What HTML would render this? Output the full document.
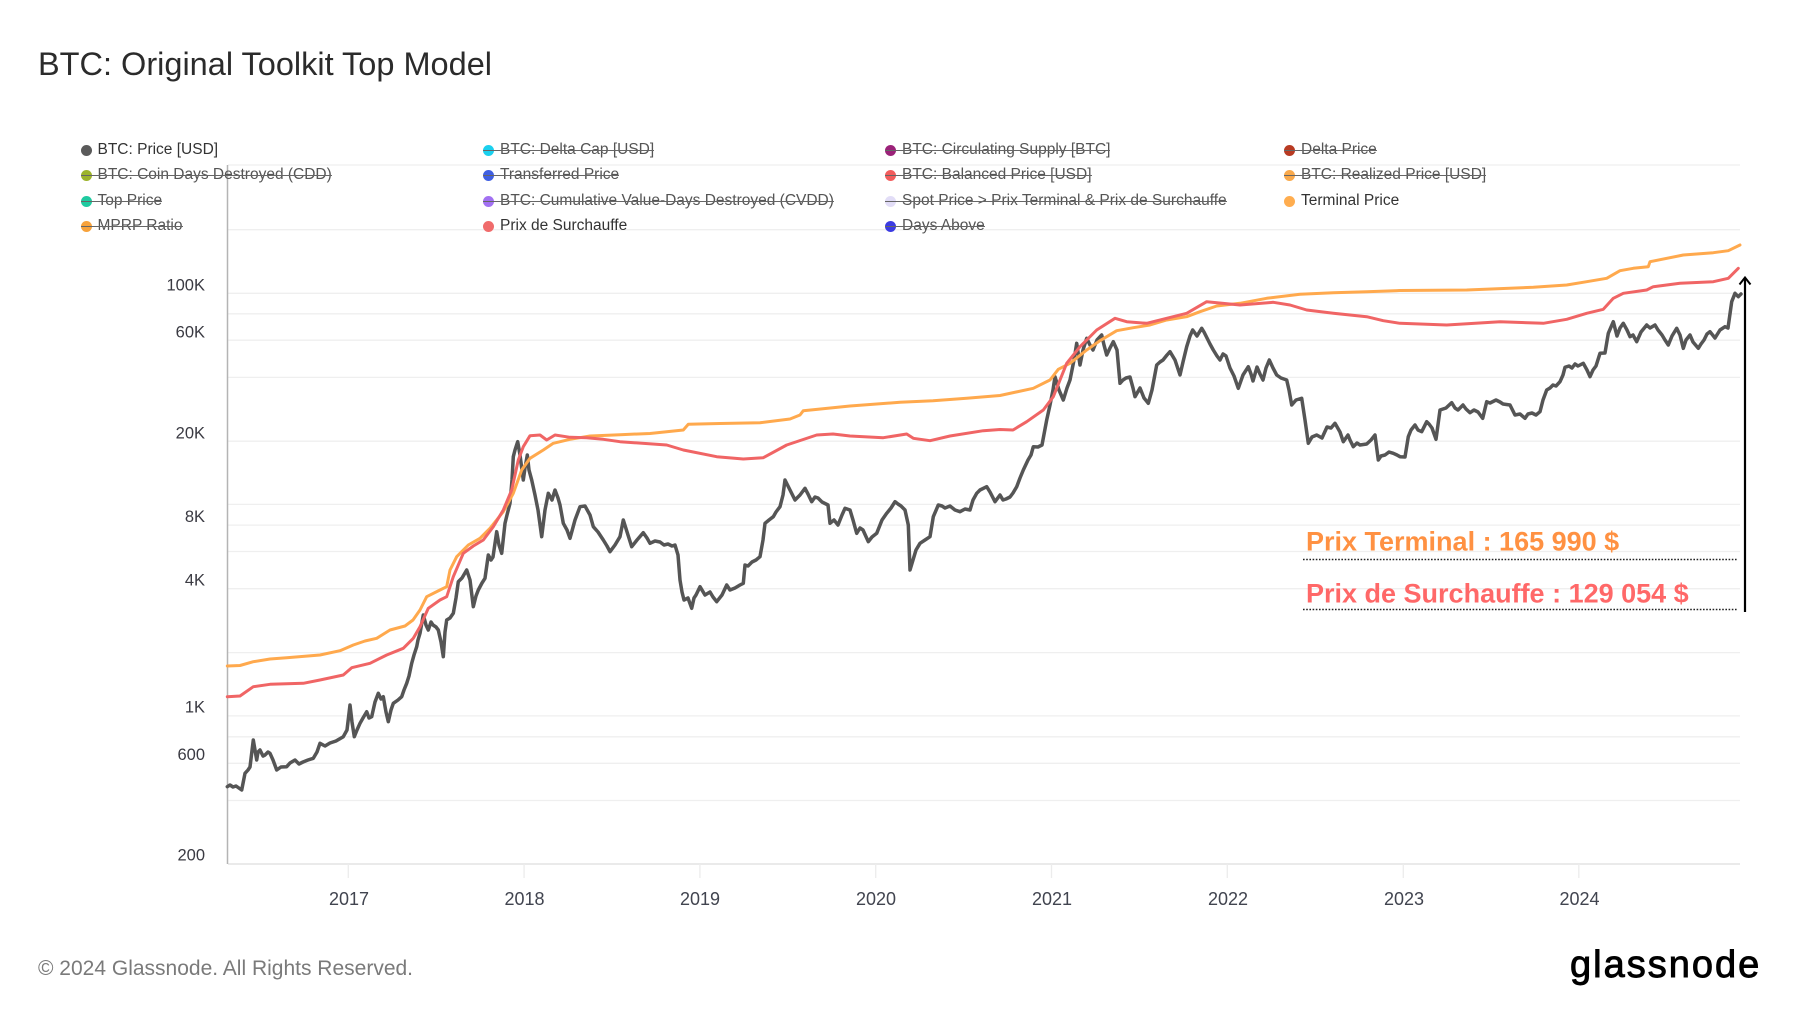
<!DOCTYPE html>
<html>
<head>
<meta charset="utf-8">
<style>
  html,body{margin:0;padding:0;background:#fff;}
  body{width:1800px;height:1013px;overflow:hidden;position:relative;font-family:"Liberation Sans",Arial,sans-serif;}
  .lg{position:absolute;font-size:15.5px;line-height:18px;color:#333;white-space:nowrap;}
  .lg .d{position:absolute;left:-6px;top:4px;width:11px;height:11px;border-radius:50%;}
  .lg span{position:relative;left:11px;}
  .lg.off{color:#555;}
  .lg.off::after{content:"";position:absolute;left:-6px;right:-11px;top:9px;height:1.2px;background:#666;}
</style>
</head>
<body>
<svg width="1800" height="1013" viewBox="0 0 1800 1013" xmlns="http://www.w3.org/2000/svg" style="position:absolute;left:0;top:0;">
  <text x="38" y="75" font-family="Liberation Sans, Arial, sans-serif" font-size="32.5" fill="#2b2b2b">BTC: Original Toolkit Top Model</text>

  <!-- gridlines -->
  <g stroke="#efefef" stroke-width="1.3">
    <line x1="228" x2="1740" y1="165" y2="165"/>
    <line x1="228" x2="1740" y1="229.7" y2="229.7"/>
    <line x1="228" x2="1740" y1="293.3" y2="293.3"/>
    <line x1="228" x2="1740" y1="313.8" y2="313.8"/>
    <line x1="228" x2="1740" y1="340.2" y2="340.2"/>
    <line x1="228" x2="1740" y1="377.4" y2="377.4"/>
    <line x1="228" x2="1740" y1="441.2" y2="441.2"/>
    <line x1="228" x2="1740" y1="504.4" y2="504.4"/>
    <line x1="228" x2="1740" y1="525.1" y2="525.1"/>
    <line x1="228" x2="1740" y1="551.5" y2="551.5"/>
    <line x1="228" x2="1740" y1="588.7" y2="588.7"/>
    <line x1="228" x2="1740" y1="652.6" y2="652.6"/>
    <line x1="228" x2="1740" y1="715.9" y2="715.9"/>
    <line x1="228" x2="1740" y1="736.8" y2="736.8"/>
    <line x1="228" x2="1740" y1="763.3" y2="763.3"/>
    <line x1="228" x2="1740" y1="800.5" y2="800.5"/>
  </g>
  <!-- x axis -->
  <line x1="228" x2="1740" y1="864" y2="864" stroke="#e4e4e4" stroke-width="1.5"/>
  <g stroke="#ececec" stroke-width="1.3">
    <line x1="348.3" x2="348.3" y1="864" y2="878"/>
    <line x1="524.1" x2="524.1" y1="864" y2="878"/>
    <line x1="699.9" x2="699.9" y1="864" y2="878"/>
    <line x1="875.7" x2="875.7" y1="864" y2="878"/>
    <line x1="1051.5" x2="1051.5" y1="864" y2="878"/>
    <line x1="1227.3" x2="1227.3" y1="864" y2="878"/>
    <line x1="1403.3" x2="1403.3" y1="864" y2="878"/>
    <line x1="1578.8" x2="1578.8" y1="864" y2="878"/>
  </g>
  <g font-family="Liberation Sans, Arial, sans-serif" font-size="18" fill="#41444f" text-anchor="middle">
    <text x="349" y="905">2017</text>
    <text x="524.5" y="905">2018</text>
    <text x="700" y="905">2019</text>
    <text x="876" y="905">2020</text>
    <text x="1052" y="905">2021</text>
    <text x="1228" y="905">2022</text>
    <text x="1404" y="905">2023</text>
    <text x="1579.5" y="905">2024</text>
  </g>
  <!-- y axis -->
  <line x1="227.5" x2="227.5" y1="165" y2="864" stroke="#b4b4b4" stroke-width="1.5"/>
  <g font-family="Liberation Sans, Arial, sans-serif" font-size="16.5" fill="#3a3a42" text-anchor="end">
    <text x="205" y="290.5">100K</text>
    <text x="205" y="337.5">60K</text>
    <text x="205" y="438.5">20K</text>
    <text x="205" y="522">8K</text>
    <text x="205" y="585.5">4K</text>
    <text x="205" y="712.5">1K</text>
    <text x="205" y="760">600</text>
    <text x="205" y="860.5">200</text>
  </g>

  <!-- BTC price -->
  <polyline fill="none" stroke="#555555" stroke-width="3.5" stroke-linejoin="round" stroke-linecap="round" points="
227.3,786.7 230,785 233,787 236,786 241.7,790 245,773.3 248,770 250,767 253.3,740 256.7,760 258,752 260,750 263,756 265,755 268,752 270,753.3 273,760 276.7,770 281,767 286.7,766.7 290,763 295,760 299,764 303,762 308,760 313.3,758.3 317,752 320,743.3 325,746 330,743 336,741 343.3,736.7 347,730 350,705 352,722 354.3,736.7 357,730 360,723.3 363,718 366.7,711.7 369,718 371.7,716.7 375,702 378.3,693.3 381,699 383.3,696.7 386,712 388.3,721.7 391,710 393.3,703.3 398,700 401.7,696.7 404,690 406.7,683.3 409,676 411.7,663.3 414,655 416.7,646.7 418,640 420,633.3 422,622 423.3,615 426,625 428.3,630 431,622 433,625 436,627 438.3,630 441,642 443.3,656.7 445,632 446.7,620 450,618 453.3,613.3 456,598 458.3,581.7 462,578 466.7,570 470,580 473.3,606.7 476,596 478.3,590 482,583 485,578.3 488.3,555 491,560 493,557 496.7,531.7 499,545 501.7,553.3 505,523.3 507,515 510,503.3 512,480 513.3,456.7 515,450 517.7,441.7 520,455 523.3,480 525,468 527.3,455 529,470 531.7,480 535,495 538,510 541.7,536.7 545,510 548.3,493.3 552,500 555,490 558,498 560,505 563.3,523.3 567,530 570,538.3 575,520 580,506.7 585,506 590,515 593.3,526.7 598,532 603.3,540 607,546 610,551.7 615,545 620,536.7 623.3,520 628,535 631.7,546.7 637,540 643.3,532.7 647,538 650,543.3 655,541 660,542 664,545 668,544 672,546 675,545 678,555 680,580 682,592 684,600 688,598 691.7,608.3 694,598 696,595 700,586.7 705,595 710,592 713,597 716.7,601.7 722,595 726.7,585 730,590 735,588 740,585 743.3,583.3 745,565 748,566 752,562 756,560 760,556.7 763,540 765,523.3 769,520 773.3,516.7 776,512 780,506.7 783,495 785,480 788,486 790,490 795,500 800,495 805,488.3 808,494 811.7,501.7 815,497 818,498 822,502 828,505 830,523.3 834,520 838,525 842,515 845,508.3 850,510 853,520 856.7,533.3 860,528 863,530 868.3,541.7 872,537 876.7,533.3 882,520 886.7,513.3 891,508 895,501.7 898,504 901,506 905,510 908.3,525 910,570 913,560 916,550 920,543.3 925,540 930,536.7 933.3,516.7 938.3,505 942,506 945,508 950,506 955,510 960,511.7 965,509 970,510 973,500 976.7,493.3 980,490 986.7,486.7 990,492 995,501.7 1000,495 1003,500 1006,499 1010,497 1013,493 1016.7,486.7 1020,478 1023.3,470 1028,460 1031,455 1033.3,446.7 1038,447 1042,445 1046.7,420 1050,405 1053,390 1055,376.7 1059,390 1063.3,400 1067,388 1070,380 1074,360 1076.7,343.3 1080,365 1083,350 1086.7,338.3 1090,345 1093,350 1097,340 1101.7,335 1104,345 1106.7,355 1110,348 1113.3,341.7 1117,350 1120,383.3 1123,380 1126,378 1130,377 1133,388 1135,396.7 1140,388 1144,398 1148.3,403.3 1152,390 1156.7,365 1160,362 1163,360 1167,355 1170,351.7 1175,360 1180,375 1183,362 1186.7,346.7 1190,336 1192.7,330 1197,336 1201.7,328.3 1204,332 1207,338 1210,344 1213.3,350 1217,356 1220,360 1223,354 1226,356 1230,368 1234,376 1238.3,388.3 1243,375 1248.3,366.7 1251,374 1253,381 1257,367 1260,374 1263,380 1266,368 1269.3,360 1273,368 1276.7,375 1281,378 1286.7,380 1289,390 1291.7,405 1296,400 1301.7,398.3 1305,420 1308.3,443.3 1312,437 1316.7,435 1322,438 1327,427 1331,428 1335,423.3 1340,432 1343.3,441.7 1348,435 1350,440 1353.3,446.7 1357,443 1360,445 1366.7,444 1371,440 1375,435 1378.3,460 1381,456 1385,455 1389,452 1393.3,453.3 1397,455 1400,456.7 1405,457 1408.3,436.7 1411,430 1415,425 1418,430 1421.7,431.7 1426.7,421.7 1429,424 1432,428 1436,439.3 1440,410 1446,408 1451.7,402.7 1455,408 1458,410 1463,405 1466,409 1470,412.7 1474,410 1478,412 1482.7,418.3 1486.7,401.7 1490,403 1496,400 1500,402 1503,404 1510,405 1515,415 1520,414 1525,418.3 1528,414 1532,413 1536,415 1540,411.7 1543,400 1546.7,390 1550,388 1553,385 1556,386 1560,381.7 1563,375 1565,367.3 1569,366 1572,368 1575,364 1578,366 1583.3,363.3 1587,370 1590,376.7 1593,370 1596,366 1600,353.3 1605,353 1608.3,333.3 1613.3,321.7 1617,336 1620,328 1623.3,323.3 1627,330 1630,336.7 1633,335 1636.7,341.7 1641,332 1646.7,325 1650,328 1655,325 1658,330 1662,335 1665,340 1668.3,345 1672,336 1676.7,328.3 1680,335 1683.3,348.3 1686,340 1690,335 1693,342 1698.3,348.3 1701,344 1704,340 1707,334 1710,331.7 1715,338 1720,330 1725,326.7 1728,328 1731.7,301.7 1735,293.3 1738.3,296.7 1741,294"/>

  <!-- Terminal Price (orange) -->
  <polyline fill="none" stroke="#FFA94D" stroke-width="3" stroke-linejoin="round" stroke-linecap="round" points="
227.3,666 240,665.5 253.3,661.7 270,659 286.7,657.7 320,655 340,650.7 353.3,645 365,641 376.7,638.3 390,630 405,626 413,620 420,610 426.7,596.7 440,590 446.7,586.7 450,570 456.7,556.7 468.3,545 480,538.3 490,528.3 503.3,511.7 513.3,493.3 521.7,470 530,458.3 543.3,450 553.3,443.3 570,439.3 590,436 620,434.7 650,433.5 683.3,430 688.3,424.3 720,423.5 760,422.7 790,419 800,415 803.3,410.7 850,406 900,402.3 933,400.7 966.7,398.3 1000,395.5 1033.3,388.3 1050,380 1058.3,369.3 1070,363.3 1086.7,350 1100,340.7 1116.7,330.7 1133.3,327.7 1150,325 1166.7,320 1186.7,316.7 1200,311.7 1216.7,306 1240,303.3 1266.7,298.3 1300,294.3 1333.3,292.7 1366.7,291.7 1400,290.5 1466.7,290 1533.3,287.3 1566.7,285 1586.7,281.7 1606.7,278.3 1620,270.7 1633.3,268.3 1648.3,266.7 1650,261.7 1683.3,255 1713.3,252.7 1728.3,250.7 1740,245"/>

  <!-- Prix de Surchauffe (red) -->
  <polyline fill="none" stroke="#F06565" stroke-width="3" stroke-linejoin="round" stroke-linecap="round" points="
227.3,696.7 240,696 253.3,686.7 270,684.3 303.3,683.3 320,680 343.3,675 351.7,667.7 370,663.3 386.7,655 403.3,648.3 413.3,638.3 420,626.7 428.3,608.3 440,600 446.7,596.7 453.3,576.7 463.3,553.3 473.3,546 483.3,540 493.3,526.7 503.3,510 511.7,490 518.3,460 523.3,446.7 530,435.7 540,435 546.7,440 555,435 570,437.3 586.7,437.7 603.3,439.3 620,441.7 666.7,445 683.3,450 716.7,456.7 743.3,459 763.3,457.7 786.7,445 816.7,435 833,434 850,436 883.3,437.7 906.7,434 913.3,438.3 930,440.7 950,436 983.3,430.7 1000,429.5 1013,430 1026.7,421.7 1043.3,410 1053.3,396.7 1066.7,363.3 1080,346.7 1096.7,330 1115,318.3 1126.7,321.7 1146.7,323.3 1166.7,318.3 1186.7,313.3 1206.7,301.7 1240,305 1273.3,302.3 1290,305 1306.7,310 1333.3,313.3 1366.7,316.7 1383.3,320.7 1400,323.3 1446.7,325 1500,321.7 1543.3,323.3 1566.7,319.3 1586.7,313.3 1603.3,309.3 1613.3,298.3 1623.3,293.3 1646.7,290 1653.3,286.7 1680,283.3 1713.3,281.7 1728.3,278.3 1738.3,268.3"/>

  <!-- annotations -->
  <text x="1306" y="550.5" font-family="Liberation Sans, Arial, sans-serif" font-weight="bold" font-size="27" fill="#FF9142">Prix Terminal : 165 990 $</text>
  <line x1="1303" x2="1737" y1="559.5" y2="559.5" stroke="#222" stroke-width="1.6" stroke-dasharray="1.6 1.6"/>
  <text x="1306" y="602.5" font-family="Liberation Sans, Arial, sans-serif" font-weight="bold" font-size="27" fill="#FF6868">Prix de Surchauffe : 129 054 $</text>
  <line x1="1303" x2="1737" y1="609.5" y2="609.5" stroke="#222" stroke-width="1.6" stroke-dasharray="1.6 1.6"/>
  <line x1="1745" x2="1745" y1="612" y2="278" stroke="#000" stroke-width="2.2"/>
  <polyline points="1739.5,284.5 1745,277.5 1750.5,284.5" fill="none" stroke="#000" stroke-width="2"/>

  <!-- footer -->
  <text x="38" y="975" font-family="Liberation Sans, Arial, sans-serif" font-size="21" fill="#7a7a7a">© 2024 Glassnode. All Rights Reserved.</text>
  <text x="1570" y="977" font-family="Liberation Sans, Arial, sans-serif" font-size="38" letter-spacing="2" fill="#000" stroke="#000" stroke-width="0.9">glassnode</text>
</svg>

<!-- legend -->
<div class="lg" style="left:86.5px;top:141px;"><i class="d" style="background:#5a5a5a"></i><span>BTC: Price [USD]</span></div>
<div class="lg off" style="left:489px;top:141px;"><i class="d" style="background:#1bd0ee"></i><span>BTC: Delta Cap [USD]</span></div>
<div class="lg off" style="left:891px;top:141px;"><i class="d" style="background:#9b2279"></i><span>BTC: Circulating Supply [BTC]</span></div>
<div class="lg off" style="left:1290px;top:141px;"><i class="d" style="background:#b83a22"></i><span>Delta Price</span></div>

<div class="lg off" style="left:86.5px;top:166px;"><i class="d" style="background:#9cb32a"></i><span>BTC: Coin Days Destroyed (CDD)</span></div>
<div class="lg off" style="left:489px;top:166px;"><i class="d" style="background:#3f5fe2"></i><span>Transferred Price</span></div>
<div class="lg off" style="left:891px;top:166px;"><i class="d" style="background:#f25c5c"></i><span>BTC: Balanced Price [USD]</span></div>
<div class="lg off" style="left:1290px;top:166px;"><i class="d" style="background:#f9a94b"></i><span>BTC: Realized Price [USD]</span></div>

<div class="lg off" style="left:86.5px;top:191.5px;"><i class="d" style="background:#1fcaa0"></i><span>Top Price</span></div>
<div class="lg off" style="left:489px;top:191.5px;"><i class="d" style="background:#a271f2"></i><span>BTC: Cumulative Value-Days Destroyed (CVDD)</span></div>
<div class="lg off" style="left:891px;top:191.5px;"><i class="d" style="background:#e2ddf7"></i><span>Spot Price &gt; Prix Terminal &amp; Prix de Surchauffe</span></div>
<div class="lg" style="left:1290px;top:191.5px;"><i class="d" style="background:#ffad4f"></i><span>Terminal Price</span></div>

<div class="lg off" style="left:86.5px;top:217px;"><i class="d" style="background:#f7a23b"></i><span>MPRP Ratio</span></div>
<div class="lg" style="left:489px;top:217px;"><i class="d" style="background:#f06b6b"></i><span>Prix de Surchauffe</span></div>
<div class="lg off" style="left:891px;top:217px;"><i class="d" style="background:#3b3be2"></i><span>Days Above</span></div>
</body>
</html>
